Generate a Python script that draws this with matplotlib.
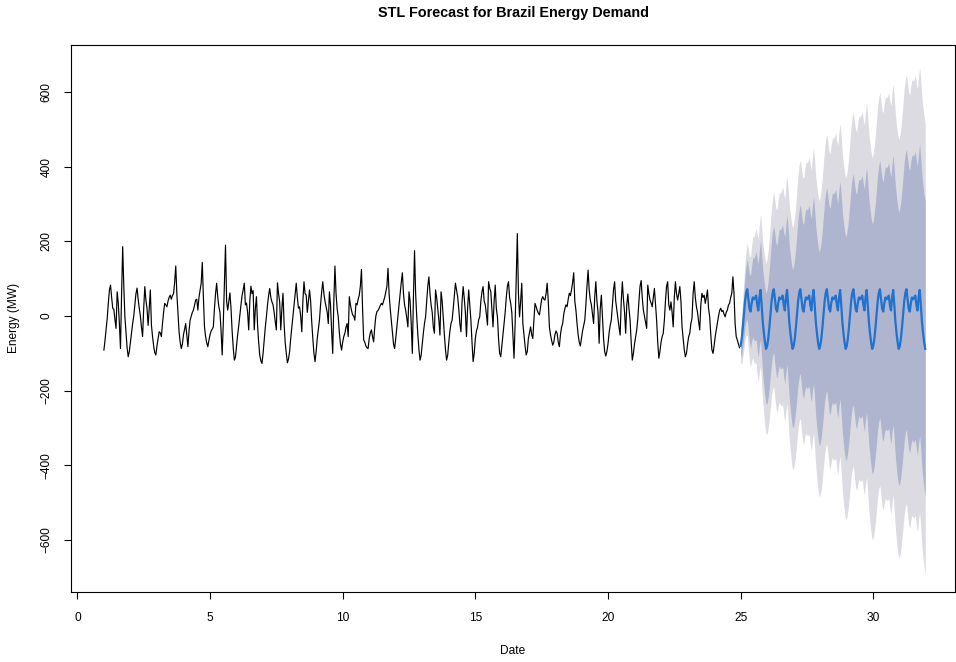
import numpy as np
import matplotlib
matplotlib.use("Agg")
import matplotlib.pyplot as plt

plt.rcParams['font.family'] = ['Liberation Sans', 'DejaVu Sans']

# Hourly observations (24 per day), days 1..24
freq = 24
start = 1
d01 = [-91, -65, -35, -6, 35, 70, 83, 50, 21, 18, -10, -33, 65, 35, -20, -87, 60, 186, 80, -2, -45, -85, -109, -95]
d02 = [-70, -45, -20, 0, 30, 60, 75, 45, 21, 0, -30, -55, 20, 79, 43, 20, -25, 20, 70, -24, -55, -80, -98, -104]
d03 = [-80, -60, -42, -45, -55, -20, 10, 34, 30, 25, 40, 50, 56, 45, 55, 60, 90, 134, 60, 10, -42, -70, -87, -75]
d04 = [-50, -35, -20, -50, -82, -40, -11, 0, 10, 16, 30, 43, 45, 16, 50, 70, 88, 144, 50, -29, -55, -72, -82, -65]
d05 = [-50, -40, -35, -29, 20, 60, 88, 50, 25, 10, -40, -104, -20, 90, 190, 40, 16, 40, 62, 20, -40, -85, -118, -110]
d06 = [-80, -50, -25, 3, 30, 55, 70, 88, 30, 35, 10, -37, 40, 80, 60, 68, -37, 20, 52, -24, -70, -105, -120, -127]
d07 = [-100, -65, -30, -2, 30, 55, 74, 50, 38, 30, 10, -15, -37, 89, 60, 38, -37, 20, 61, -20, -70, -100, -125, -115]
d08 = [-95, -60, -30, -2, 30, 60, 88, 50, 21, 25, 0, -42, 40, 92, 60, 56, 10, 40, 70, 40, -15, -60, -100, -122]
d09 = [-95, -60, -35, -11, 30, 65, 92, 60, 40, 25, 10, -20, 65, 30, -40, -100, 40, 134, 60, 20, -2, -45, -75, -91]
d10 = [-70, -55, -46, -30, -20, -55, 52, 30, 15, 3, 0, -11, 34, 30, 45, 56, 80, 125, 20, -64, -70, -80, -85, -87]
d11 = [-60, -45, -37, -55, -69, -30, 0, 12, 15, 21, 28, 34, 30, 40, 50, 65, 79, 128, 60, 20, -11, -45, -75, -87]
d12 = [-60, -30, -2, 30, 60, 90, 116, 60, 30, 15, -5, -29, 65, 40, -20, -100, 50, 175, 60, -2, -50, -90, -118, -105]
d13 = [-75, -45, -20, -2, 40, 80, 105, 60, 30, 10, -30, -46, 70, 50, 20, -10, -51, 65, 40, -6, -50, -90, -118, -105]
d14 = [-70, -40, -20, -11, 20, 55, 88, 70, 52, 20, -20, -42, 40, 79, 47, 10, -55, 20, 70, 30, -11, -70, -122, -100]
d15 = [-60, -40, -30, -10, -2, 40, 65, 79, 40, 30, 5, -24, 92, 75, 65, 20, -29, 40, 83, 20, -2, -60, -100, -109]
d16 = [-80, -50, -20, 10, 50, 80, 92, 50, 34, 10, -50, -113, -20, 100, 221, 60, -2, 40, 88, -20, -50, -80, -104, -95]
d17 = [-60, -45, -29, -50, -60, -10, 34, 25, 15, 8, 3, 25, 45, 52, 45, 43, 60, 88, 40, -29, -50, -65, -78, -70]
d18 = [-50, -40, -46, -70, -82, -50, -30, -20, 5, 20, 30, 25, 45, 61, 55, 70, 90, 116, 40, 16, -20, -50, -70, -80]
d19 = [-60, -40, -25, -11, 30, 80, 123, 70, 43, 30, 5, -20, 50, 92, 40, 10, -73, 20, 56, 0, -60, -95, -107, -95]
d20 = [-75, -45, -25, -11, 30, 70, 92, 40, 16, -10, -30, -51, 40, 92, 45, 10, -46, 30, 59, 20, -11, -70, -118, -100]
d21 = [-75, -55, -37, -6, 40, 80, 95, 50, 16, 0, -15, -33, 83, 60, 43, 35, 25, 50, 74, 30, -11, -70, -113, -95]
d22 = [-70, -55, -46, -11, 40, 80, 92, 30, 16, 38, 10, -29, 50, 92, 60, 43, 60, 79, 40, -29, -60, -90, -109, -100]
d23 = [-75, -55, -46, -20, -6, 60, 92, 50, 25, 10, -15, -37, 30, 61, 50, 56, 34, 50, 70, 20, -2, -50, -90, -100]
d24 = [-80, -55, -37, -20, 0, 15, 21, 12, 15, 5, -2, 10, 16, 30, 34, 50, 61, 105, 60, -20, -55, -64, -75, -85]
observed_days = [d01, d02, d03, d04, d05, d06, d07, d08, d09, d10, d11, d12,
                 d13, d14, d15, d16, d17, d18, d19, d20, d21, d22, d23, d24]

# Point forecast for the next 7 days (hourly)
f1 = [-80, -60, -30, 5, 40, 62, 72, 45, 20, 12, 35, 50, 45, 48, 55, 30, 15, 50, 70, 30, -15, -45, -70, -88]
f2 = [-80, -60, -30, 5, 40, 62, 72, 45, 20, 12, 35, 50, 45, 48, 55, 30, 15, 50, 70, 30, -15, -45, -70, -88]
f3 = [-80, -60, -30, 5, 40, 62, 72, 45, 20, 12, 35, 50, 45, 48, 55, 30, 15, 50, 70, 30, -15, -45, -70, -88]
f4 = [-80, -60, -30, 5, 40, 62, 72, 45, 20, 12, 35, 50, 45, 48, 55, 30, 15, 50, 70, 30, -15, -45, -70, -88]
f5 = [-80, -60, -30, 5, 40, 62, 72, 45, 20, 12, 35, 50, 45, 48, 55, 30, 15, 50, 70, 30, -15, -45, -70, -88]
f6 = [-80, -60, -30, 5, 40, 62, 72, 45, 20, 12, 35, 50, 45, 48, 55, 30, 15, 50, 70, 30, -15, -45, -70, -88]
f7 = [-80, -60, -30, 5, 40, 62, 72, 45, 20, 12, 35, 50, 45, 48, 55, 30, 15, 50, 70, 30, -15, -45, -70, -88]
forecast_days = [f1, f2, f3, f4, f5, f6, f7]

# Half-widths of the 80% and 95% prediction intervals, per forecast step
w80 = [31, 43, 53, 61, 68, 75, 81, 86, 92, 97, 101, 106, 110, 114, 118, 122, 126, 129, 133, 136, 140, 143, 146, 149,
       153, 156, 158, 161, 164, 167, 170, 173, 175, 178, 180, 183, 186, 188, 190, 193, 196, 198, 200, 203, 205, 207, 209, 212,
       214, 216, 218, 220, 222, 224, 226, 229, 231, 233, 235, 237, 239, 240, 242, 244, 246, 248, 250, 252, 254, 256, 257, 259,
       261, 263, 264, 266, 268, 270, 271, 273, 275, 277, 278, 280, 282, 283, 285, 287, 288, 290, 291, 293, 295, 296, 298, 299,
       301, 302, 304, 305, 307, 308, 310, 311, 313, 314, 316, 317, 319, 320, 322, 323, 325, 326, 328, 329, 330, 332, 333, 335,
       336, 337, 339, 340, 341, 343, 344, 346, 347, 348, 350, 351, 352, 354, 355, 356, 357, 359, 360, 361, 363, 364, 365, 366,
       368, 369, 370, 372, 373, 374, 375, 377, 378, 379, 380, 381, 383, 384, 385, 386, 388, 389, 390, 391, 392, 393, 395, 396]
w95 = [47, 66, 81, 93, 104, 114, 124, 132, 140, 148, 155, 162, 168, 175, 181, 187, 193, 198, 204, 209, 214, 219, 224, 229,
       234, 238, 243, 247, 251, 256, 260, 264, 268, 272, 276, 280, 284, 288, 292, 295, 299, 303, 306, 310, 313, 317, 320, 324,
       327, 330, 333, 337, 340, 343, 346, 349, 353, 356, 359, 362, 365, 368, 371, 374, 376, 379, 382, 385, 388, 391, 393, 396,
       399, 402, 404, 407, 410, 412, 415, 418, 420, 423, 425, 428, 431, 433, 436, 438, 441, 443, 445, 448, 450, 453, 455, 458,
       460, 462, 465, 467, 469, 472, 474, 476, 479, 481, 483, 485, 488, 490, 492, 494, 496, 499, 501, 503, 505, 507, 509, 512,
       514, 516, 518, 520, 522, 524, 526, 528, 530, 532, 535, 537, 539, 541, 543, 545, 547, 549, 551, 553, 555, 556, 558, 560,
       562, 564, 566, 568, 570, 572, 574, 576, 578, 580, 581, 583, 585, 587, 589, 591, 593, 594, 596, 598, 600, 602, 603, 605]

x_ticks = [0, 5, 10, 15, 20, 25, 30]
y_ticks = [-600, -400, -200, 0, 200, 400, 600]

# Series on a time axis measured in days
energy = np.concatenate([np.asarray(d, float) for d in observed_days])
t_obs = start + np.arange(energy.size) / freq
fc_mean = np.concatenate([np.asarray(d, float) for d in forecast_days])
t_fc = t_obs[-1] + (1 + np.arange(fc_mean.size)) / freq
w80 = np.asarray(w80, float)
w95 = np.asarray(w95, float)

W, H = 956, 662
fig = plt.figure(figsize=(W / 100, H / 100), dpi=100)
ax = fig.add_axes([71 / W, (H - 592) / H, 884 / W, 547 / H])

ax.fill_between(t_fc, fc_mean - w95, fc_mean + w95, color='#DBDBE1', lw=0)
ax.fill_between(t_fc, fc_mean - w80, fc_mean + w80, color='#B0B5CF', lw=0)
ax.plot(t_obs, energy, color='black', lw=0.85)
ax.plot(t_fc, fc_mean, color='#1F72D0', lw=1.6)

ax.set_xlim(-0.24, 33.08)
ax.set_ylim(-739, 726)
ax.set_xticks(x_ticks)
ax.set_xticklabels([str(v) for v in x_ticks])
ax.set_yticks(y_ticks)
ax.set_yticklabels([str(v).replace('-', '\u2212') for v in y_ticks], rotation=90, va='center')

for s in ax.spines.values():
    s.set_linewidth(0.8)
    s.set_color('black')
ax.tick_params(direction='out', length=5.2, width=0.8, labelsize=8.6, colors='black')
ax.tick_params(axis='x', pad=9)
ax.tick_params(axis='y', pad=8)

fig.text(513 / W, 1 - 13 / H, 'STL Forecast for Brazil Energy Demand',
         ha='center', va='center', fontsize=10.4, fontweight='bold')
fig.text(513 / W, 1 - 651 / H, 'Date', ha='center', va='center', fontsize=8.6)
fig.text(14 / W, 1 - 318 / H, 'Energy (MW)', ha='center', va='center',
         rotation=90, fontsize=8.6)

fig.savefig('out.png', dpi=100)
